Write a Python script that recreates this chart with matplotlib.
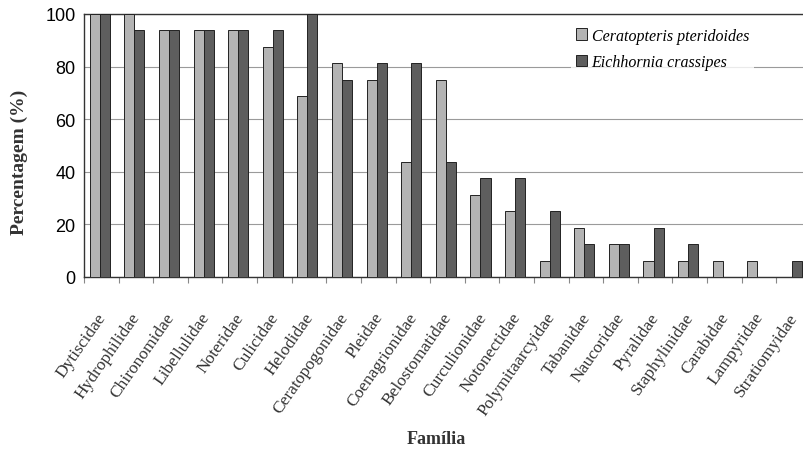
import numpy as np
import matplotlib
matplotlib.use("Agg")
import matplotlib.pyplot as plt

familias = [
    "Dytiscidae", "Hydrophilidae", "Chironomidae", "Libellulidae", "Noteridae",
    "Culicidae", "Helodidae", "Ceratopogonidae", "Pleidae", "Coenagrionidae",
    "Belostomatidae", "Curculionidae", "Notonectidae", "Polymitaarcyidae",
    "Tabanidae", "Naucoridae", "Pyralidae", "Staphylinidae", "Carabidae",
    "Lampyridae", "Stratiomyidae",
]
ceratopteris = [100, 100, 93.75, 93.75, 93.75, 87.5, 68.75, 81.25, 75, 43.75,
                75, 31.25, 25, 6.25, 18.75, 12.5, 6.25, 6.25, 6.25, 6.25, 0]
eichhornia = [100, 93.75, 93.75, 93.75, 93.75, 93.75, 100, 75, 81.25, 81.25,
              43.75, 37.5, 37.5, 25, 12.5, 12.5, 18.75, 12.5, 0, 0, 6.25]
yticks = [0, 20, 40, 60, 80, 100]

serif = "Liberation Serif"

fig = plt.figure(figsize=(8.04, 4.52), dpi=100)
ax = fig.add_axes([0.1045, 0.385, 0.904, 0.582])

x = np.arange(len(familias))
w = 0.29
c = 0.455
ax.bar(x + c - w / 2, ceratopteris, w, color="#b4b4b4", edgecolor="#222222",
       linewidth=0.7, label="Ceratopteris pteridoides", zorder=3)
ax.bar(x + c + w / 2, eichhornia, w, color="#5e5e5e", edgecolor="#222222",
       linewidth=0.7, label="Eichhornia crassipes", zorder=3)

ax.set_xlim(0, len(familias))
ax.set_ylim(0, 100)
ax.set_yticks(yticks)
ax.set_yticklabels([str(v) for v in yticks], fontfamily="Liberation Sans",
                   fontsize=13)
ax.tick_params(axis="y", length=0, pad=6)

ax.set_xticks(x)
ax.set_xticklabels([])
ax.tick_params(axis="x", length=4, color="#888888")
for i, nome in enumerate(familias):
    ax.text(i + 0.34, -12.3, nome, rotation=55, ha="right", va="top",
            rotation_mode="anchor", fontfamily=serif, fontsize=12.5,
            color="#333333")

ax.grid(axis="y", color="#9a9a9a", linewidth=0.8, zorder=0)
for s in ["left", "bottom", "top"]:
    ax.spines[s].set_color("#333333")
    ax.spines[s].set_linewidth(1.0)
ax.spines["right"].set_visible(False)

fig.text(0.024, 0.64, "Percentagem (%)", rotation=90, ha="center",
         va="center", fontfamily=serif, fontweight="bold", fontsize=14,
         color="#333333")
fig.text(0.543, 0.027, "Família", ha="center", va="center",
         fontfamily=serif, fontweight="bold", fontsize=13, color="#333333")

leg = ax.legend(loc="upper left", bbox_to_anchor=(0.700, 0.965),
                bbox_transform=fig.transFigure, frameon=True,
                prop={"family": serif, "style": "italic", "size": 11.5},
                handlelength=0.7, handleheight=0.7, handletextpad=0.3,
                labelspacing=0.65, borderpad=0.3, fancybox=False)
leg.get_frame().set_edgecolor("none")
leg.get_frame().set_facecolor("white")
leg.set_zorder(5)

fig.savefig("out.png", dpi=100)
